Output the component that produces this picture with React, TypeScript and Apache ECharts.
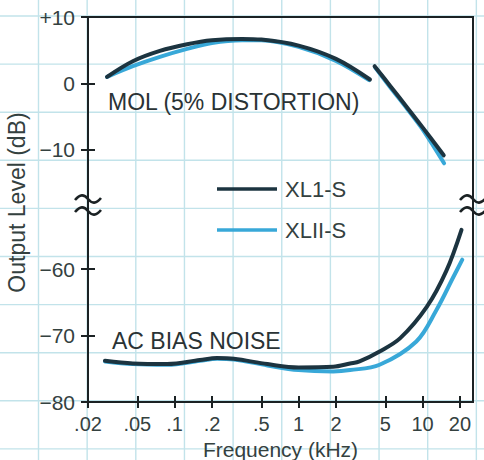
import React, { useEffect, useRef } from "react";
import * as echarts from "echarts";

// ---------- data ----------
const X_TICKS = [0.02, 0.05, 0.1, 0.2, 0.5, 1, 2, 5, 10, 20];
const X_TICK_LABELS = [".02", ".05", ".1", ".2", ".5", "1", "2", "5", "10", "20"];
const Y_TICKS = [10, 0, -10, -60, -70, -80];

// MOL (5% distortion), low/mid frequency segment
const MOL_XL1_F = [0.0285, 0.046, 0.076, 0.126, 0.2, 0.35, 0.5, 1, 2, 3.76];
const MOL_XL1_DB = [1.0, 3.35, 4.9, 5.9, 6.5, 6.7, 6.6, 5.7, 3.7, 0.6];
const MOL_XL2_F = [0.0285, 0.046, 0.076, 0.126, 0.2, 0.35, 0.5, 1, 2, 3.7];
const MOL_XL2_DB = [1.0, 2.6, 4.0, 5.2, 6.1, 6.5, 6.5, 5.5, 3.4, 0.5];

// MOL, high frequency segment
const HF_XL1_F = [4.1, 5.5, 7.5, 10, 14.8];
const HF_XL1_DB = [2.6, -0.4, -3.6, -6.6, -10.8];
const HF_XL2_F = [4.15, 5.5, 7.5, 10, 14.9];
const HF_XL2_DB = [2.4, -0.6, -3.8, -6.9, -12.0];

// AC bias noise
const NOISE_XL1_F = [0.0274, 0.046, 0.087, 0.16, 0.22, 0.3, 0.56, 1.0, 1.9, 2.6, 3.1, 4.5, 6.6, 10.8, 15.6, 20.6];
const NOISE_XL1_DB = [-73.8, -74.2, -74.3, -73.7, -73.4, -73.5, -74.3, -74.8, -74.7, -74.2, -73.9, -72.4, -70.4, -65.7, -60.2, -54.1];
const NOISE_XL2_F = [0.0274, 0.046, 0.087, 0.16, 0.22, 0.3, 0.56, 1.0, 1.9, 2.6, 4.5, 8.9, 12.9, 17.7, 20.9];
const NOISE_XL2_DB = [-73.9, -74.3, -74.4, -73.8, -73.5, -73.6, -74.5, -75.2, -75.4, -75.2, -74.4, -70.9, -66.2, -61.2, -58.6];

const SERIES_NAMES = ["XL1-S", "XLII-S"];
const LABEL_MOL = "MOL (5% DISTORTION)";
const LABEL_NOISE = "AC BIAS NOISE";

// ---------- scale helpers (broken y axis) ----------
const BREAK_SHIFT = 32.1; // collapses the -18..-50 dB range
const BREAK_LEVEL = -20;
const mapY = (db: number) => (db >= BREAK_LEVEL ? db : db + BREAK_SHIFT);
const unmapY = (v: number) => (v < -15 ? v - BREAK_SHIFT : v);
const lg = (f: number) => Math.log10(f);

const DARK = "#1c3440";
const BLUE = "#38a8d8";
const FRAME = "#1b2224";
const TEXT = "#34413f";
const PAPER = "#c2e3ea";
const FONT = "'Liberation Sans', Arial, Helvetica, sans-serif";

const pairs = (fs: number[], dbs: number[]) => fs.map((f, i) => [lg(f), mapY(dbs[i])]);

export default function App() {
  const ref = useRef<HTMLDivElement>(null);

  useEffect(() => {
    if (!ref.current) return;
    echarts.graphic.registerShape(
      "tilde",
      echarts.graphic.extendPath("M0 5 C 5 -1, 9 -1, 13 4 S 21 9, 26 3", {})
    );
    const chart = echarts.init(ref.current, undefined, { renderer: "svg" });

    const W = 484;
    const H = 460;
    const paper: any[] = [];
    for (let k = 0; k < 10; k++) {
      const x = 38.5 + 48.65 * k;
      paper.push({ type: "line", z: -10, silent: true, shape: { x1: x, y1: 0, x2: x, y2: H }, style: { stroke: PAPER, lineWidth: 1.4 } });
    }
    for (let k = 0; k < 10; k++) {
      const y = 16 + 48.1 * k;
      paper.push({ type: "line", z: -10, silent: true, shape: { x1: 0, y1: y, x2: W, y2: y }, style: { stroke: PAPER, lineWidth: 1.4 } });
    }

    const breakMarks: any[] = [];
    [75, 460].forEach((bx) => {
      [195, 207].forEach((by) => {
        breakMarks.push({ type: "tilde", z: 20, x: bx, y: by, style: { stroke: FRAME, lineWidth: 2.6, fill: "none" } });
      });
    });

    const xMin = lg(0.02);
    const xMax = lg(25.5);
    const yMin = mapY(-80);
    const yMax = 10;
    const yCustom = Y_TICKS.map(mapY);
    const xCustom = X_TICKS.map(lg);

    const yFmt = (v: number) => {
      const db = Math.round(unmapY(v));
      return db > 0 ? "+" + db : db < 0 ? "\u2212" + -db : "0";
    };
    const xFmt = (v: number) => {
      let best = 0;
      X_TICKS.forEach((t, i) => {
        if (Math.abs(lg(t) - v) < Math.abs(lg(X_TICKS[best]) - v)) best = i;
      });
      return X_TICK_LABELS[best];
    };

    const lineSeries = (name: string, color: string, data: number[][], z: number) => ({
      name,
      type: "line",
      data,
      smooth: 0.35,
      symbol: "none",
      z,
      lineStyle: { color, width: 4, cap: "round" },
      itemStyle: { color },
    });

    chart.setOption({
      animation: false,
      grid: {
        left: 88, top: 17, right: 11, bottom: 58,
        outerBoundsMode: "none", containLabel: false,
        show: true, borderColor: FRAME, borderWidth: 2, backgroundColor: "transparent",
      },
      xAxis: [
        {
          type: "value",
          min: xMin,
          max: xMax,
          position: "bottom",
          name: "Frequency (kHz)",
          nameLocation: "middle",
          nameGap: 31,
          nameTextStyle: { fontSize: 21, lineHeight: 21, color: TEXT, fontFamily: FONT },
          axisLine: { show: true, onZero: false, lineStyle: { color: FRAME, width: 2 } },
          axisTick: { show: true, length: 6, lineStyle: { color: FRAME, width: 2 }, customValues: xCustom },
          axisLabel: { show: true, margin: 12, fontSize: 20, color: TEXT, fontFamily: FONT, customValues: xCustom, formatter: xFmt },
          splitLine: { show: false },
        },
        {
          type: "value",
          min: xMin,
          max: xMax,
          position: "bottom",
          axisLine: { show: false, onZero: false },
          axisTick: { show: true, inside: true, length: 6, lineStyle: { color: FRAME, width: 2 }, customValues: xCustom },
          axisLabel: { show: false },
          splitLine: { show: false },
        },
      ],
      yAxis: [
        {
          type: "value",
          min: yMin,
          max: yMax,
          position: "left",
          name: "Output Level (dB)",
          nameLocation: "middle",
          nameGap: 54,
          nameTextStyle: { fontSize: 23, color: TEXT, fontFamily: FONT, padding: [0, 0, 0, 14] },
          axisLine: { show: true, onZero: false, lineStyle: { color: FRAME, width: 2 } },
          axisTick: { show: true, length: 7, lineStyle: { color: FRAME, width: 2 }, customValues: yCustom },
          axisLabel: { show: true, margin: 13, fontSize: 21, color: TEXT, fontFamily: FONT, customValues: yCustom, formatter: yFmt },
          splitLine: { show: false },
        },
        {
          type: "value",
          min: yMin,
          max: yMax,
          position: "left",
          axisLine: { show: false, onZero: false },
          axisTick: { show: true, inside: true, length: 7, lineStyle: { color: FRAME, width: 2 }, customValues: yCustom },
          axisLabel: { show: false },
          splitLine: { show: false },
        },
      ],
      legend: {
        data: SERIES_NAMES.map((n) => ({ name: n, icon: "rect" })),
        orient: "vertical",
        left: 212,
        top: 173,
        itemWidth: 60,
        itemHeight: 3.5,
        itemGap: 19,
        selectedMode: false,
        textStyle: { fontSize: 22, color: TEXT, fontFamily: FONT, padding: [0, 0, 0, 3] },
      },
      series: [
        lineSeries(SERIES_NAMES[1], BLUE, pairs(MOL_XL2_F, MOL_XL2_DB), 2),
        lineSeries(SERIES_NAMES[1], BLUE, pairs(HF_XL2_F, HF_XL2_DB), 2),
        lineSeries(SERIES_NAMES[1], BLUE, pairs(NOISE_XL2_F, NOISE_XL2_DB), 2),
        lineSeries(SERIES_NAMES[0], DARK, pairs(MOL_XL1_F, MOL_XL1_DB), 3),
        lineSeries(SERIES_NAMES[0], DARK, pairs(HF_XL1_F, HF_XL1_DB), 3),
        lineSeries(SERIES_NAMES[0], DARK, pairs(NOISE_XL1_F, NOISE_XL1_DB), 3),
      ],
      graphic: [
        ...paper,
        ...breakMarks,
        { type: "text", z: 20, x: 108, y: 102, style: { text: LABEL_MOL, fontSize: 23, fill: "#2a3335", fontFamily: FONT, verticalAlign: "middle" } },
        { type: "text", z: 20, x: 112, y: 341, style: { text: LABEL_NOISE, fontSize: 23, fill: "#2a3335", fontFamily: FONT, verticalAlign: "middle" } },
      ],
    });

    return () => chart.dispose();
  }, []);

  return (
    <div
      ref={ref}
      style={{ position: "fixed", left: 0, top: 0, width: 484, height: 460, background: "#ffffff" }}
    />
  );
}
